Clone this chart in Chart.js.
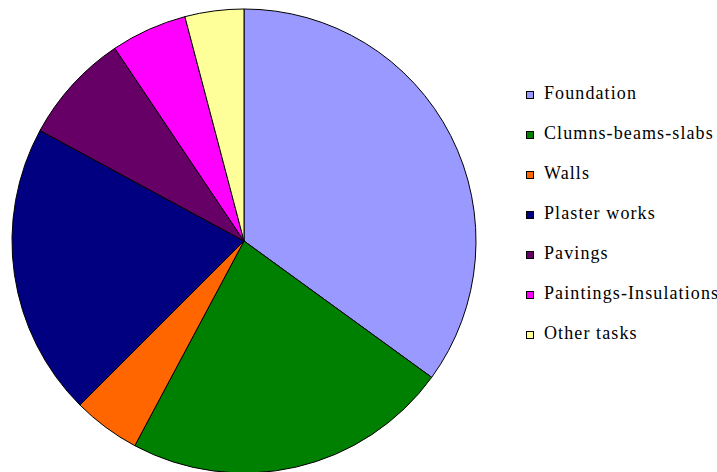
<!DOCTYPE html>
<html>
<head>
<meta charset="utf-8">
<script src="https://cdn.jsdelivr.net/npm/chart.js@4/dist/chart.umd.min.js"></script>
<style>
  html, body { margin: 0; padding: 0; background: #fff; overflow: hidden; width: 717px; height: 472px; }
  #wrap { position: absolute; left: 0; top: 0; width: 488px; height: 482px; }
  #legend { position: absolute; left: 0; top: 0; }
  .sw { position: absolute; width: 6px; height: 6px; border: 1px solid #000; }
  .lb { position: absolute; font-family: "Liberation Serif", "Times New Roman", serif; font-size: 18px; line-height: 18px; letter-spacing: 1.1px; color: #000; white-space: nowrap; }
</style>
</head>
<body>
<div id="wrap"><canvas id="mycanvas"></canvas></div>
<div id="legend"></div>
<script>
// share of each task in total cost (%)
var tasks = ['Foundation', 'Clumns-beams-slabs', 'Walls', 'Plaster works', 'Pavings', 'Paintings-Insulations', 'Other tasks'];
var shares = [35.0, 22.8, 4.7, 20.4, 7.7, 5.3, 4.1];
var colours = ['#9999FF', '#008000', '#FF6600', '#000080', '#660066', '#FF00FF', '#FFFF99'];

var ctx = document.getElementById('mycanvas');

var pieChart = new Chart(ctx,
{
  type: 'pie',
  data: {
    labels: tasks,
    datasets: [
      {
        data: shares,
        backgroundColor: colours,
        borderColor: '#000000',
        borderWidth: 1
      }
    ]
  },
  options: {
    responsive: true,
    maintainAspectRatio: false,
    animation: false,
    radius: 232,
    layout: { padding: 0 },
    plugins: {
      legend: { display: false },
      tooltip: { enabled: false }
    }
  }
});

// legend on the right, built from the same arrays
var legend = document.getElementById('legend');
for (var i in tasks)
{
  var sw = document.createElement('div');
  sw.className = 'sw';
  sw.style.left = '526px';
  sw.style.top = (91 + 40 * i) + 'px';
  sw.style.background = colours[i];
  legend.appendChild(sw);

  var lb = document.createElement('div');
  lb.className = 'lb';
  lb.style.left = '544px';
  lb.style.top = (84 + 40 * i) + 'px';
  lb.textContent = tasks[i];
  legend.appendChild(lb);
}
</script>
</body>
</html>
